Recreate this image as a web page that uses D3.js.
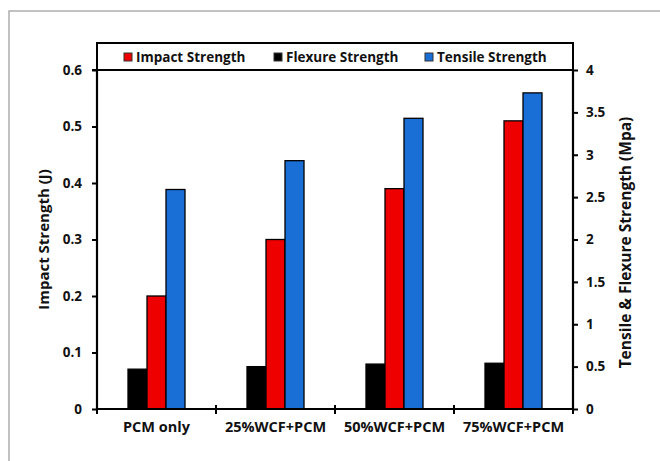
<!DOCTYPE html>
<html><head><meta charset="utf-8">
<script src="https://cdn.jsdelivr.net/npm/d3@7"></script>
<style>body{margin:0;background:#fff}svg{display:block}text{font-family:"Open Sans",Lato,sans-serif;font-weight:bold;fill:#111}</style>
</head><body>
<script>
const categories = ["PCM only", "25%WCF+PCM", "50%WCF+PCM", "75%WCF+PCM"];
const impactStrength = [0.20, 0.30, 0.39, 0.51];
const flexureStrength = [0.47, 0.50, 0.53, 0.54];
const tensileStrength = [2.59, 2.93, 3.43, 3.73];
const leftTicks = [0, 0.1, 0.2, 0.3, 0.4, 0.5, 0.6];
const rightTicks = [0, 0.5, 1, 1.5, 2, 2.5, 3, 3.5, 4];

const W = 660, H = 461;
const m = {l: 97, r: 573, t: 70, b: 409};
const svg = d3.select("body").append("svg").attr("width", W).attr("height", H);

// outer frame
svg.append("rect").attr("x", 9).attr("y", 11).attr("width", 700).attr("height", 500)
  .attr("fill", "none").attr("stroke", "#999").attr("stroke-width", 1.2);

const x0 = d3.scaleBand().domain(categories).range([m.l, m.r]).paddingInner(0).paddingOuter(0);
const x1 = d3.scaleBand().domain(["flex", "impact", "tensile"]).range([0, 57]);
const yL = d3.scaleLinear().domain([0, 0.6]).range([m.b, m.t]);
const yR = d3.scaleLinear().domain([0, 4]).range([m.b, m.t]);

const series = [
  {key: "flex", vals: flexureStrength, scale: yR, color: "#000000"},
  {key: "impact", vals: impactStrength, scale: yL, color: "#ee0000"},
  {key: "tensile", vals: tensileStrength, scale: yR, color: "#1a6fd6"}
];

series.forEach(s => {
  svg.append("g").selectAll("rect").data(categories).join("rect")
    .attr("x", (c) => x0(c) + x0.bandwidth()/2 - 28.5 + x1(s.key))
    .attr("y", (c, i) => s.scale(s.vals[i]))
    .attr("width", x1.bandwidth())
    .attr("height", (c, i) => m.b - s.scale(s.vals[i]))
    .attr("fill", s.color).attr("stroke", "#000").attr("stroke-width", 1.3);
});

// axes
const axL = svg.append("g").attr("transform", `translate(${m.l},0)`)
  .call(d3.axisLeft(yL).tickValues(leftTicks).tickSize(5).tickPadding(10).tickFormat(d => d === 0 ? "0" : d3.format(".1f")(d)));
const axR = svg.append("g").attr("transform", `translate(${m.r},0)`)
  .call(d3.axisRight(yR).tickValues(rightTicks).tickSize(5).tickPadding(8).tickFormat(d => String(d)));
const axB = svg.append("g").attr("transform", `translate(0,${m.b})`)
  .call(d3.axisBottom(x0).tickSize(0).tickPadding(13));
[axL, axR, axB].forEach(a => {
  a.selectAll("path").attr("stroke", "#000").attr("stroke-width", 2.2);
  a.selectAll("line").attr("stroke", "#000").attr("stroke-width", 2);
  a.selectAll("text").style("font-size", "13.5px").style("font-family", '"Open Sans",Lato,sans-serif').style("font-weight", "bold").attr("fill", "#111");
});
axB.selectAll("text").style("font-size", "14.5px");
axL.selectAll("path").attr("d", `M0,${m.t}V${m.b}`);
axR.selectAll("path").attr("d", `M0,${m.t}V${m.b}`);
axB.selectAll("path").attr("d", `M${m.l},0H${m.r}`);
// category boundary ticks
const bTicks = d3.range(categories.length + 1).map(i => m.l + i * x0.bandwidth());
axB.selectAll("line.bt").data(bTicks).join("line").attr("class", "bt")
  .attr("x1", d => d).attr("x2", d => d).attr("y1", -4).attr("y2", 5)
  .attr("stroke", "#000").attr("stroke-width", 2);

// top border
svg.append("line").attr("x1", m.l - 5).attr("x2", m.r + 1).attr("y1", m.t).attr("y2", m.t)
  .attr("stroke", "#000").attr("stroke-width", 2.2);

// legend
svg.append("rect").attr("x", m.l).attr("y", 43).attr("width", m.r - m.l).attr("height", m.t - 43)
  .attr("fill", "#fff").attr("stroke", "#000").attr("stroke-width", 2);
const legend = [
  {name: "Impact Strength", color: "#ee0000", x: 124},
  {name: "Flexure Strength", color: "#000000", x: 274},
  {name: "Tensile Strength", color: "#1a6fd6", x: 425}
];
legend.forEach(l => {
  svg.append("rect").attr("x", l.x).attr("y", 53).attr("width", 8).attr("height", 8)
    .attr("fill", l.color).attr("stroke", "#333").attr("stroke-width", 1);
  svg.append("text").attr("x", l.x + 12).attr("y", 62).style("font-size", "13.5px").text(l.name);
});

// axis titles
svg.append("text").attr("transform", `translate(49,${(m.t + m.b) / 2}) rotate(-90)`)
  .attr("text-anchor", "middle").style("font-size", "15px").text("Impact Strength (J)");
svg.append("text").attr("transform", `translate(631,${(m.t + m.b) / 2 + 3}) rotate(-90)`)
  .attr("text-anchor", "middle").style("font-size", "15.5px").text("Tensile & Flexure Strength (Mpa)");
</script>
</body></html>
